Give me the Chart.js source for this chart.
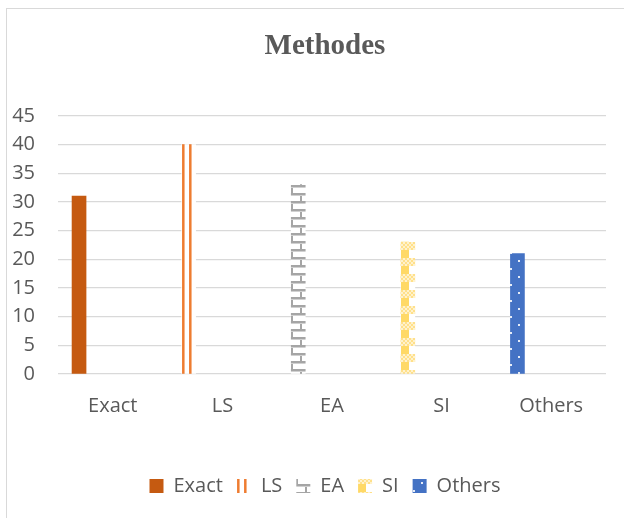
<!DOCTYPE html>
<html>
<head>
<meta charset="utf-8">
<script src="https://cdn.jsdelivr.net/npm/chart.js@4"></script>
<style>
  html, body { margin: 0; padding: 0; overflow: hidden; background: #fff; }
  #box { position: absolute; left: 6px; top: 8px; width: 640px; height: 520px;
         border-left: 1px solid #d9d9d9; border-top: 1px solid #d9d9d9; }
  canvas { display: block; }
</style>
</head>
<body>
<div id="box"><canvas id="c" width="636" height="510"></canvas></div>
<script>
// values
const categories = ["Exact", "LS", "EA", "SI", "Others"];
const seriesNames = ["Exact", "LS", "EA", "SI", "Others"];
const exactValues  = [31, null, null, null, null];
const lsValues     = [null, 40, null, null, null];
const eaValues     = [null, null, 33, null, null];
const siValues     = [null, null, null, 23, null];
const othersValues = [null, null, null, null, 21];
const yTicks = {min: 0, max: 45, step: 5};

const textColor = "#595959";
const gridColor = "#d9d9d9";
const ctx = document.getElementById("c").getContext("2d");

function tile(w, h, draw) {
    const t = document.createElement("canvas");
    t.width = w; t.height = h;
    const g = t.getContext("2d");
    g.fillStyle = "#fff";
    g.fillRect(0, 0, w, h);
    draw(g);
    return ctx.createPattern(t, "repeat");
}

// excel-ish pattern fills
const lsFill = tile(7, 4, g => {
    g.fillStyle = "#f0823c"; g.fillRect(0, 0, 1, 4);
    g.fillStyle = "#ed7d31"; g.fillRect(1, 0, 1, 4);
    g.fillStyle = "#f6b58a"; g.fillRect(2, 0, 1, 4);
});
const eaFill = tile(18, 16, g => {
    g.fillStyle = "#a5a5a5";
    g.fillRect(0, 0, 18, 2);
    g.fillRect(0, 8, 18, 2);
    g.fillRect(0, 2, 2, 6);
    g.fillRect(9, 10, 2, 6);
    g.fillStyle = "#d0d0d0";
    g.fillRect(0, 2, 18, 1);
    g.fillRect(0, 10, 18, 1);
});
const siFill = tile(16, 16, g => {
    g.fillStyle = "#ffd966";
    g.fillRect(0, 0, 8, 16);
    for (let y = 0; y < 8; y += 2)
        for (let x = 0; x < 16; x += 2) {
            g.fillStyle = ((x + y) / 2) % 2 ? "#fff2cc" : "#ffe08a";
            g.fillRect(x, y, 2, 2);
        }
});
const othersFill = tile(16, 16, g => {
    g.fillStyle = "#4472c4";
    g.fillRect(0, 0, 16, 16);
    g.fillStyle = "#e6ecf7";
    g.fillRect(8, 6, 2, 2);
    g.fillRect(0, 14, 2, 2);
});

const seriesValues = [exactValues, lsValues, eaValues, siValues, othersValues];
const fills = ["#c55a11", lsFill, eaFill, siFill, othersFill];

const datasets = seriesNames.map((name, i) => ({
    label: name,
    xAxisID: "xb",
    data: seriesValues[i].map((v, j) => ({x: j, y: v})).filter(p => p.y !== null),
    backgroundColor: fills[i],
    borderWidth: 0,
    barThickness: 14,
    grouped: false,
}));

// keep the pattern tiles anchored to each bar / legend box
const alignPatterns = {
    id: "alignPatterns",
    beforeDraw(chart) {
        const boxes = (chart.legend && chart.legend.legendHitBoxes) || [];
        boxes.forEach((b, i) => {
            const p = chart.data.datasets[i].backgroundColor;
            if (p instanceof CanvasPattern) p.setTransform(new DOMMatrix().translate(Math.round(b.left), Math.round(b.top)));
        });
    },
    beforeDatasetsDraw(chart) {
        chart.data.datasets.forEach((ds, i) => {
            const el = chart.getDatasetMeta(i).data[0];
            if (el && ds.backgroundColor instanceof CanvasPattern)
                ds.backgroundColor.setTransform(new DOMMatrix().translate(Math.round(el.x - el.width / 2), Math.round(el.y)));
        });
    }
};

new Chart(ctx, {
    type: "bar",
    data: {labels: categories, datasets: datasets},
    plugins: [alignPatterns],
    options: {
        responsive: false,
        animation: false,
        layout: {padding: {left: 4, right: 4, top: 0, bottom: 13}},
        plugins: {
            title: {
                display: true,
                text: "Methodes",
                color: textColor,
                font: {family: "Liberation Serif", size: 29, weight: "bold"},
                padding: {top: 20, bottom: 52},
            },
            legend: {
                position: "bottom",
                labels: {
                    color: textColor,
                    font: {family: "Open Sans", size: 20},
                    boxWidth: 14,
                    boxHeight: 14,
                    padding: 14,
                },
            },
            tooltip: {enabled: false},
        },
        scales: {
            x: {
                type: "category",
                offset: true,
                grid: {display: false, drawTicks: false},
                border: {display: false},
                ticks: {color: textColor, font: {family: "Open Sans", size: 20}, padding: 20},
                afterFit: s => { s.height = 88; },
            },
            xb: {
                type: "linear",
                display: false,
                offset: false,
                min: -0.192,
                max: 4.808,
            },
            y: {
                min: yTicks.min,
                max: yTicks.max,
                grid: {color: gridColor, lineWidth: 1.3, drawTicks: false},
                border: {display: false},
                ticks: {stepSize: yTicks.step, color: textColor, font: {family: "Open Sans", size: 20}, padding: 23},
                afterFit: s => { s.width = 47; },
            },
            // empty right margin inside the plot frame
            yr: {
                position: "right",
                grid: {display: false, drawTicks: false},
                border: {display: false},
                ticks: {display: false},
                afterFit: s => { s.width = 33; },
            },
        },
    },
});
</script>
</body>
</html>
